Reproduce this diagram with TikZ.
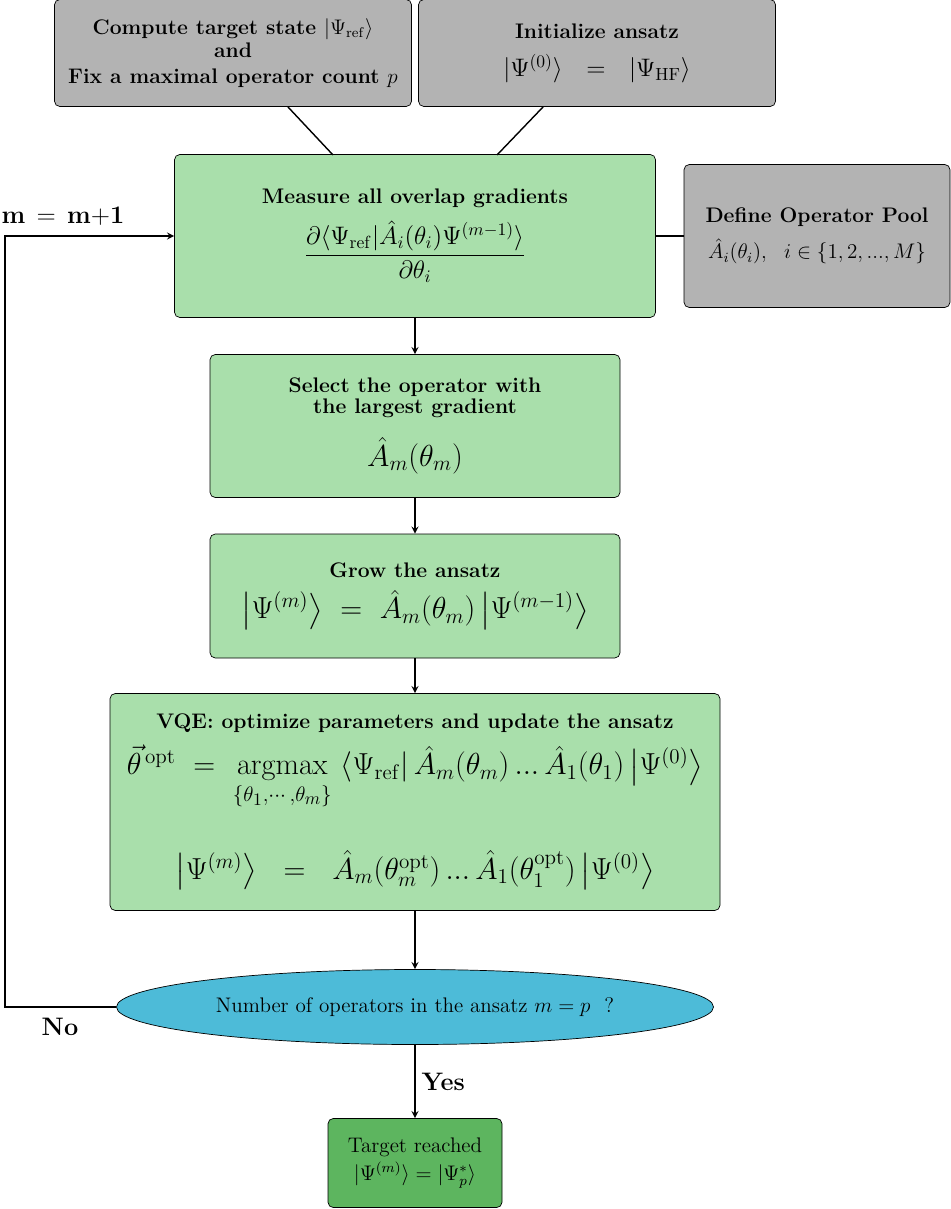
\documentclass[tikz,border=0pt]{standalone}
\usepackage{amsmath,amssymb}
\usetikzlibrary{positioning,shapes.geometric,arrows}
\definecolor{boxgreen}{HTML}{A9DFAB}
\definecolor{boxgray}{HTML}{B3B3B3}
\definecolor{ellblue}{HTML}{4DBBD8}
\definecolor{endgreen}{HTML}{5DB55F}
\begin{document}
\begin{tikzpicture}[x=0.02cm,y=-0.02cm,
        block/.style={draw,rectangle,rounded corners=3pt,align=center,inner sep=2pt},
        gray block/.style={block,fill=boxgray},
        green block/.style={block,fill=boxgreen},
        link/.style={thick},
        flow/.style={thick,-stealth}]
   \useasboundingbox (0,0) rectangle (950,1209);
   \node (T) [gray block,minimum width=357*0.02cm,minimum height=107*0.02cm,font=\large\bfseries] at (233,53)
      {Compute target state $|\Psi_{\mathrm{ref}}\rangle$\\[-1pt] and\\[1pt] Fix a maximal operator count $p$};
   \node (I) [gray block,minimum width=357*0.02cm,minimum height=107*0.02cm] at (597,53)
      {\large\bfseries Initialize ansatz\\[8pt] \Large $|\Psi^{(0)}\rangle\ \ =\ \ |\Psi_{\mathrm{HF}}\rangle$};
   \node (G) [green block,minimum width=481*0.02cm,minimum height=163*0.02cm] at (415,236)
      {\large\bfseries Measure all overlap gradients\\[6pt] \Large $\dfrac{\partial\langle\Psi_{\mathrm{ref}}|\hat{A}_i(\theta_i)\Psi^{(m-1)}\rangle}{\partial\theta_i}$};
   \node (P) [gray block,minimum width=266*0.02cm,minimum height=143*0.02cm] at (817,236)
      {\large\bfseries Define Operator Pool\\[6pt] \large $\hat{A}_i(\theta_i),\ \ i\in\{1,2,...,M\}$};
   \node (S) [green block,minimum width=410*0.02cm,minimum height=143*0.02cm] at (415,426)
      {\large\bfseries Select the operator with\\ \large\bfseries the largest gradient\\[10pt] \LARGE $\hat{A}_m(\theta_m)$};
   \node (A) [green block,minimum width=410*0.02cm,minimum height=124*0.02cm] at (415,596)
      {\large\bfseries Grow the ansatz\\[6pt] \LARGE $\big|\Psi^{(m)}\big\rangle\ =\ \hat{A}_m(\theta_m)\,\big|\Psi^{(m-1)}\big\rangle$};
   \node (V) [green block,minimum width=610*0.02cm,minimum height=217*0.02cm] at (415,802)
      {\large\bfseries VQE: optimize parameters and update the ansatz\\[6pt]
       \LARGE $\vec{\theta}^{\,\mathrm{opt}}\ =\ \underset{\{\theta_1,\cdots,\theta_m\}}{\operatorname{argmax}}\ \langle\Psi_{\mathrm{ref}}|\,\hat{A}_m(\theta_m)\,...\,\hat{A}_1(\theta_1)\,\big|\Psi^{(0)}\big\rangle$\\[22pt]
       \LARGE $\big|\Psi^{(m)}\big\rangle\ \ =\ \ \hat{A}_m(\theta_m^{\mathrm{opt}})\,...\,\hat{A}_1(\theta_1^{\mathrm{opt}})\,\big|\Psi^{(0)}\big\rangle$};
   \node (Q) [draw,ellipse,fill=ellblue,minimum width=597*0.02cm,minimum height=75*0.02cm,inner sep=0pt,font=\large] at (415,1007)
      {Number of operators in the ansatz $m=p$\ \ ?};
   \node (E) [block,fill=endgreen,minimum width=174*0.02cm,minimum height=89*0.02cm,font=\large] at (415,1163)
      {Target reached\\[2pt] $|\Psi^{(m)}\rangle=|\Psi^{*}_{p}\rangle$};
   \coordinate (L1) at (5,1007);
   \coordinate (L2) at (5,236);

   \draw[link] (288,107) -- (333,155);
   \draw[link] (543,107) -- (497,155);
   \draw[link] (P) -- (G);
   \draw[flow] (G) -- (S);
   \draw[flow] (S) -- (A);
   \draw[flow] (A) -- (V);
   \draw[flow] (V) -- (Q);
   \draw[flow] (Q) -- node[right,font=\Large\bfseries] {Yes} (E);
   \draw[flow] (Q) -- (L1) -- (L2) -- (G);
   \node (U) at (63,216) {\Large$\mathbf{m\,=\,m{+}1}$};
   \node (N) at (60,1027) {\Large\bfseries No};
\end{tikzpicture}
\end{document}
